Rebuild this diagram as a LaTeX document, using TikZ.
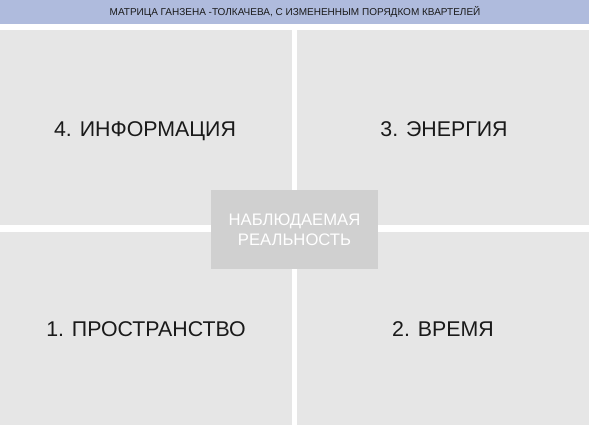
\documentclass[tikz,border=0pt]{standalone}
\usepackage{fontspec}
\setmainfont{Liberation Sans}
\definecolor{hdr}{HTML}{AFBBDD}
\definecolor{panel}{HTML}{E6E6E6}
\definecolor{cbox}{HTML}{D0D0D0}
\definecolor{txt}{HTML}{1A1A1A}
\begin{document}
\begin{tikzpicture}[x=0.75pt,y=-0.75pt,
  quad/.style={fill=panel,draw=none},
  qlabel/.style={text=txt,font=\fontsize{16}{19}\selectfont,inner sep=0pt,anchor=base},
  hdrlabel/.style={text=txt,font=\fontsize{7.5}{9}\selectfont,inner sep=0pt,anchor=base},
  ctr/.style={fill=cbox,draw=none,minimum width=125.25pt,minimum height=59.25pt,inner sep=0pt,align=center,text=white,font=\fontsize{12.5}{15}\selectfont}]
\useasboundingbox (0,0) rectangle (591,428);
\fill[white] (0,0) rectangle (591,428);
\fill[hdr] (0,0) rectangle (589,24);
\node[hdrlabel] (title) at (295,15.5) {МАТРИЦА ГАНЗЕНА -ТОЛКАЧЕВА, С ИЗМЕНЕННЫМ ПОРЯДКОМ КВАРТЕЛЕЙ};
\fill[quad] (0,30) rectangle (292,225);
\fill[quad] (297,30) rectangle (589,225);
\fill[quad] (0,232) rectangle (292,425);
\fill[quad] (297,232) rectangle (589,425);
\node[qlabel] (q4) at (145,136.5) {4. ИНФОРМАЦИЯ};
\node[qlabel] (q3) at (444,136.5) {3. ЭНЕРГИЯ};
\node[qlabel] (q1) at (146,336.5) {1. ПРОСТРАНСТВО};
\node[qlabel] (q2) at (443,336.5) {2. ВРЕМЯ};
\node[ctr] (center) at (294.5,229.5) {НАБЛЮДАЕМАЯ\\РЕАЛЬНОСТЬ};
\end{tikzpicture}
\end{document}
